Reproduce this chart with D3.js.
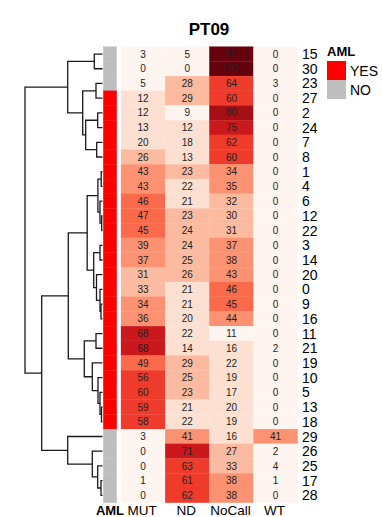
<!DOCTYPE html>
<html>
<head>
<meta charset="utf-8">
<script src="https://cdn.jsdelivr.net/npm/d3@7"></script>
<style>
  body { margin: 0; background: #fff; }
  svg { font-family: "Liberation Sans", Arial, sans-serif; }
</style>
</head>
<body>
<div class="chart"></div>
<script>
// rows in the order they are drawn (top to bottom)
var rows = ["15","30","23","27","2","24","7","8","1","4","6","12","22","3","14","20",
            "0","9","16","11","21","19","10","5","13","18","29","26","25","17","28"];
var aml = ["NO","NO","NO","YES","YES","YES","YES","YES","YES","YES","YES","YES","YES","YES","YES","YES",
           "YES","YES","YES","YES","YES","YES","YES","YES","YES","YES","NO","NO","NO","NO","NO"];
var columns = ["MUT","ND","NoCall","WT"];

var mut    = [3,0,5,12,12,13,20,26,43,43,46,47,45,39,37,31,33,34,36,68,68,49,56,60,59,58,3,0,0,1,0];
var nd     = [5,0,28,29,9,12,18,13,23,22,21,23,24,24,25,26,21,21,20,22,14,29,25,23,21,22,41,71,63,61,62];
var noCall = [91,100,64,60,80,75,62,60,34,35,32,30,31,37,38,43,46,45,44,11,16,22,19,17,20,19,16,27,33,38,38];
var wt     = [0,0,3,0,0,0,0,0,0,0,0,0,0,0,0,0,0,0,0,0,2,0,0,0,0,0,41,2,4,1,0];

var amlLevels = ["YES","NO"];
var amlColors = ["#ff0000","#bebebe"];

// row clustering: [left, right, height]; strings are leaves, numbers point to earlier merges
var merges = [
  ["15","30",8.2],   // 0
  ["23","27",6.5],   // 1
  ["2","24",4.8],    // 2
  ["7","8",5.8],     // 3
  [2,3,16.8],        // 4
  [1,4,19.8],        // 5
  [0,5,34.8],        // 6
  ["1","4",1.3],     // 7
  ["12","22",0.8],   // 8
  ["6",8,2.5],       // 9
  [7,9,4.6],         // 10
  ["3","14",2.5],    // 11
  ["9","16",1.5],    // 12
  ["0",12,2.5],      // 13
  ["20",13,6],       // 14
  [11,14,8.8],       // 15
  [10,15,15.3],      // 16
  ["11","21",6.5],   // 17
  ["13","18",1],     // 18
  ["5",18,2.5],      // 19
  ["10",19,4.5],     // 20
  ["19",20,10.2],    // 21
  [17,21,18.2],      // 22
  [16,22,34.2],      // 23
  ["17","28",1.5],   // 24
  ["25",24,4.8],     // 25
  ["26",25,10.2],    // 26
  ["29",26,34.8],    // 27
  [23,27,60.8],      // 28
  [6,28,77.5]        // 29
];

var series = [mut, nd, noCall, wt];

var width = 382, height = 517;

var svg = d3.select(".chart").append("svg")
  .attr("width", width)
  .attr("height", height);

var y = d3.scaleBand().domain(rows).range([46.7, 502.7]);
var x = d3.scaleBand().domain(columns).range([121, 297.7]);
var hx = d3.scaleLinear().domain([0, 77.5]).range([102.5, 25]);
var color = d3.scaleQuantize().domain([0, 100]).range(d3.schemeReds[9]);
var amlColor = d3.scaleOrdinal().domain(amlLevels).range(amlColors);

// cells
var cells = [];
rows.forEach(function(r, i){
  columns.forEach(function(c, j){
    cells.push({row: r, col: c, value: series[j][i]});
  });
});

var cell = svg.append("g").selectAll("g").data(cells).enter().append("g");

cell.append("rect")
  .attr("x", function(d){ return x(d.col); })
  .attr("y", function(d){ return y(d.row); })
  .attr("width", x.bandwidth())
  .attr("height", y.bandwidth())
  .attr("fill", function(d){ return color(d.value); })
  .attr("stroke", function(d){ return color(d.value); })
  .attr("stroke-width", 0.3);

cell.append("text")
  .attr("x", function(d){ return x(d.col) + x.bandwidth() / 2; })
  .attr("y", function(d){ return y(d.row) + y.bandwidth() / 2 + 3.6; })
  .attr("text-anchor", "middle")
  .attr("font-size", "10px")
  .attr("fill", "#222")
  .text(function(d){ return d.value; });

// annotation column
svg.append("g").selectAll("rect").data(rows).enter().append("rect")
  .attr("x", 103.3)
  .attr("y", function(d){ return y(d); })
  .attr("width", 13.4)
  .attr("height", y.bandwidth())
  .attr("fill", function(d, i){ return amlColor(aml[i]); })
  .attr("stroke", function(d, i){ return amlColor(aml[i]); })
  .attr("stroke-width", 0.3);

// row labels
svg.append("g").selectAll("text").data(rows).enter().append("text")
  .attr("x", 302)
  .attr("y", function(d){ return y(d) + y.bandwidth() / 2 + 5; })
  .attr("font-size", "14px")
  .attr("fill", "#000")
  .text(function(d){ return d; });

// column labels
svg.append("g").selectAll("text").data(columns).enter().append("text")
  .attr("x", function(d){ return x(d) + x.bandwidth() / 2 - 1; })
  .attr("y", 515)
  .attr("text-anchor", "middle")
  .attr("font-size", "13.5px")
  .text(function(d){ return d; });

svg.append("text")
  .attr("x", 110)
  .attr("y", 515)
  .attr("text-anchor", "middle")
  .attr("font-size", "13px")
  .attr("font-weight", "bold")
  .text("AML");

// dendrogram
var nodes = [];
function pos(ref){
  if (typeof ref === "string") return {x: hx(0), y: y(ref) + y.bandwidth() / 2};
  return nodes[ref];
}
var dendro = svg.append("g")
  .attr("fill", "none")
  .attr("stroke", "#1a1a1a")
  .attr("stroke-width", 1.3);

merges.forEach(function(m){
  var a = pos(m[0]), b = pos(m[1]), hxm = hx(m[2]);
  nodes.push({x: hxm, y: (a.y + b.y) / 2});
  dendro.append("path")
    .attr("d", "M" + a.x + "," + a.y + "H" + hxm + "V" + b.y + "H" + b.x);
});

// title
svg.append("text")
  .attr("x", 209)
  .attr("y", 35)
  .attr("text-anchor", "middle")
  .attr("font-size", "17px")
  .attr("font-weight", "bold")
  .text("PT09");

// legend
var legend = svg.append("g").attr("transform", "translate(327,0)");
legend.append("text")
  .attr("x", 0)
  .attr("y", 56)
  .attr("font-size", "13px")
  .attr("font-weight", "bold")
  .text("AML");

var item = legend.selectAll("g.item").data(amlLevels).enter().append("g")
  .attr("class", "item")
  .attr("transform", function(d, i){ return "translate(0," + (61 + i * 19) + ")"; });
item.append("rect")
  .attr("width", 19)
  .attr("height", 19)
  .attr("fill", function(d){ return amlColor(d); });
item.append("text")
  .attr("x", 23)
  .attr("y", 14.5)
  .attr("font-size", "14px")
  .text(function(d){ return d; });
</script>
</body>
</html>
